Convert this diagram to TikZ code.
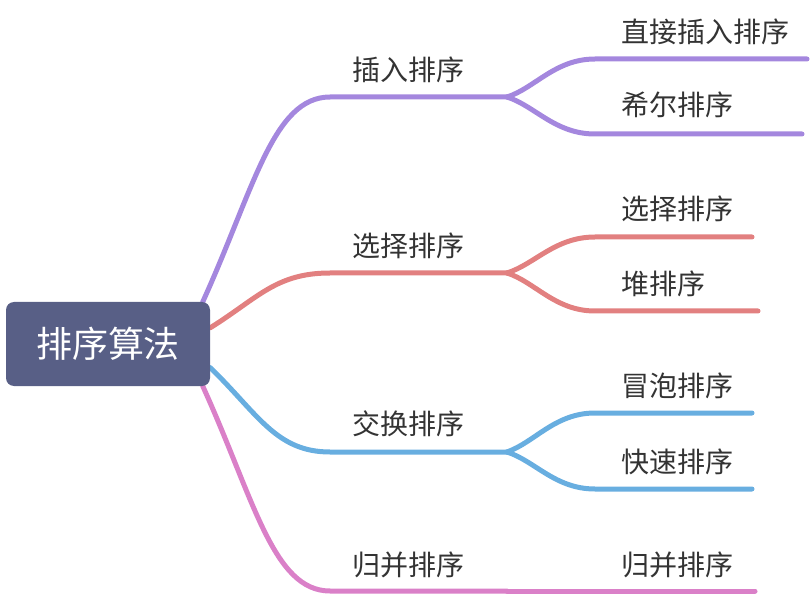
\documentclass[tikz,border=0pt]{standalone}
\usepackage{fontspec}
\newfontfamily\cjk{Noto Sans CJK SC}
\usetikzlibrary{backgrounds}
\definecolor{rootblue}{RGB}{88,95,134}
\definecolor{lilac}{RGB}{164,135,222}
\definecolor{salmon}{RGB}{226,128,128}
\definecolor{skyblue}{RGB}{104,174,224}
\definecolor{orchid}{RGB}{218,128,200}
\definecolor{inkgray}{RGB}{51,51,51}
\begin{document}
\begin{tikzpicture}[x=1pt, y=-1pt,
    branch/.style={line width=5pt, line cap=round},
    topic/.style={anchor=west, inner sep=0, text=inkgray, font=\cjk\fontsize{28pt}{30pt}\selectfont}]
    \useasboundingbox (0,0) rectangle (812,596);
    \node[fill=rootblue, rounded corners=8pt, minimum width=204pt, minimum height=84pt, inner sep=0,
        text=white, font=\cjk\fontsize{36pt}{40pt}\selectfont] (root) at (108,344) {排序算法};

    \node[topic] (insert) at (352,70) {插入排序};
    \node[topic] (select) at (352,246) {选择排序};
    \node[topic] (swap) at (352,424) {交换排序};
    \node[topic] (merge) at (352,565) {归并排序};

    \node[topic] (direct) at (621,32) {直接插入排序};
    \node[topic] (shell) at (621,105) {希尔排序};
    \node[topic] (simple) at (621,209) {选择排序};
    \node[topic] (heap) at (621,284) {堆排序};
    \node[topic] (bubble) at (621,386) {冒泡排序};
    \node[topic] (quick) at (621,462) {快速排序};
    \node[topic] (mergesub) at (621,565) {归并排序};

    \coordinate (insert-a) at (330,97);
    \coordinate (insert-b) at (507,97);
    \coordinate (select-a) at (330,273);
    \coordinate (select-b) at (507,273);
    \coordinate (swap-a) at (330,452);
    \coordinate (swap-b) at (507,452);
    \coordinate (merge-a) at (330,591);
    \coordinate (merge-b) at (507,591);

    \coordinate (direct-a) at (595,59);
    \coordinate (direct-b) at (807,59);
    \coordinate (shell-a) at (595,134);
    \coordinate (shell-b) at (802,134);
    \coordinate (simple-a) at (595,237);
    \coordinate (simple-b) at (752,237);
    \coordinate (heap-a) at (595,311);
    \coordinate (heap-b) at (758,311);
    \coordinate (bubble-a) at (595,413);
    \coordinate (bubble-b) at (752,413);
    \coordinate (quick-a) at (595,489);
    \coordinate (quick-b) at (752,489);
    \coordinate (mergesub-b) at (755,591);

    \begin{scope}[on background layer]
    \draw[branch, lilac] (root.24) .. controls (254,189) and (273,97) .. (insert-a) -- (insert-b);
    \draw[branch, salmon] (root.9) .. controls (258,298) and (276,273) .. (select-a) -- (select-b);
    \draw[branch, skyblue] (root.-13) .. controls (258,414) and (276,452) .. (swap-a) -- (swap-b);
    \draw[branch, orchid] (root.-24) .. controls (254,499) and (273,591) .. (merge-a) -- (merge-b);

    \draw[branch, lilac] (insert-b) .. controls (535,88) and (555,59) .. (direct-a) -- (direct-b);
    \draw[branch, lilac] (insert-b) .. controls (535,106) and (555,134) .. (shell-a) -- (shell-b);
    \draw[branch, salmon] (select-b) .. controls (535,264) and (555,237) .. (simple-a) -- (simple-b);
    \draw[branch, salmon] (select-b) .. controls (535,282) and (555,311) .. (heap-a) -- (heap-b);
    \draw[branch, skyblue] (swap-b) .. controls (535,442) and (555,413) .. (bubble-a) -- (bubble-b);
    \draw[branch, skyblue] (swap-b) .. controls (535,461) and (555,489) .. (quick-a) -- (quick-b);
    \draw[branch, orchid] (merge-b) -- (mergesub-b);
    \end{scope}
\end{tikzpicture}
\end{document}
